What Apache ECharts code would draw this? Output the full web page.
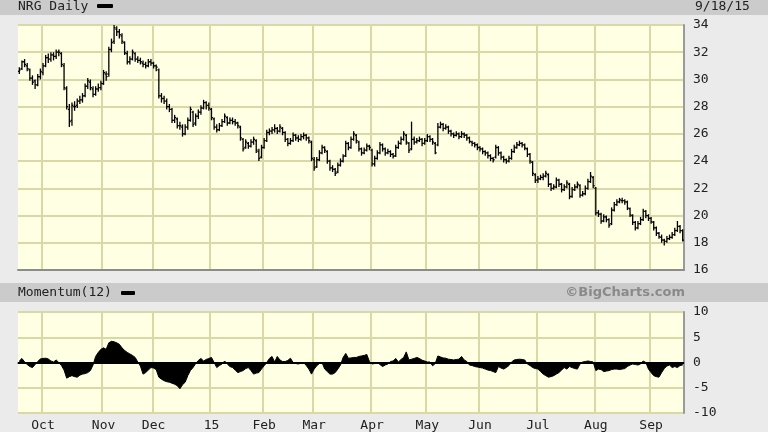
<!DOCTYPE html>
<html><head><meta charset="utf-8">
<script src="https://cdn.jsdelivr.net/npm/echarts@6/dist/echarts.min.js"></script>
<style>html,body{margin:0;padding:0;background:#ebebeb;}#c{width:768px;height:432px;}</style>
</head><body><div id="c"></div>
<script>
// ---- calendar (trading days) ----
const startDate = '2014-09-18';
const endDate = '2015-09-18';
const holidays = ['2014-11-27','2014-12-25','2015-01-01','2015-01-19','2015-02-16','2015-04-03','2015-05-25','2015-07-03','2015-09-07'];
const monthLabels = ['15','Feb','Mar','Apr','May','Jun','Jul','Aug','Sep','Oct','Nov','Dec'];

// ---- price data (NRG daily OHLC) ----
const opens = [
30.6,30.8,31.3,31.0,30.7,30.1,29.9,29.6,30.2,30.5,
31.0,31.6,31.5,31.8,31.7,32.0,31.9,31.0,29.3,27.8,
27.0,28.0,28.1,28.4,28.5,28.8,29.5,29.8,29.3,28.9,
29.3,29.4,29.7,30.4,30.4,32.2,32.8,33.7,33.5,33.2,
32.7,31.9,31.3,31.5,31.9,31.5,31.4,31.2,31.1,31.0,
31.3,31.2,31.0,30.7,28.8,28.6,28.4,28.0,27.8,27.0,
27.1,26.6,26.5,26.0,26.5,27.0,27.6,26.8,27.3,27.6,
27.9,28.3,28.1,27.8,27.1,26.5,26.3,26.6,26.9,27.2,
26.8,27.0,26.9,26.8,26.5,25.6,25.0,25.3,25.1,25.4,
25.5,24.7,24.3,25.0,25.5,26.1,26.2,26.3,26.4,26.2,
26.4,26.1,25.6,25.3,25.5,25.9,25.7,25.6,25.8,25.9,
25.7,25.4,24.1,23.6,24.1,24.6,25.0,24.7,24.0,23.5,
23.4,23.2,23.7,24.0,24.4,25.3,25.0,25.6,25.9,25.4,
24.9,24.6,24.8,25.1,24.8,23.8,24.2,24.6,25.2,24.9,
24.6,24.7,24.5,24.4,25.0,25.3,25.6,25.9,25.3,24.9,
25.6,25.4,25.5,25.6,25.3,25.5,25.8,25.6,25.3,25.2,
26.5,26.7,26.4,26.5,26.2,26.0,25.9,26.0,25.8,26.0,
25.9,25.7,25.4,25.3,25.2,25.0,24.9,24.7,24.6,24.4,
24.2,24.3,25.0,24.6,24.3,24.1,24.0,24.2,24.7,25.0,
25.2,25.3,25.2,24.9,24.5,23.9,23.0,22.6,22.7,22.8,
22.9,23.0,22.3,22.0,22.1,22.6,22.3,21.9,22.1,22.3,
21.4,21.9,22.1,22.2,21.5,21.6,22.0,22.5,22.8,22.0,
20.2,20.1,19.6,19.9,19.7,19.4,20.4,20.8,21.0,21.1,
21.1,21.0,20.5,20.0,19.5,19.1,19.4,19.7,20.3,20.0,
19.8,19.5,19.1,18.7,18.4,18.2,18.1,18.3,18.4,18.6,
18.9,19.2,18.9];
const highs = [
30.9,31.4,31.5,31.2,30.8,30.3,30.0,30.4,30.8,31.2,
31.8,31.9,32.0,32.0,32.2,32.2,32.0,31.2,29.5,28.2,
28.3,28.4,28.6,28.8,29.0,29.7,30.1,30.0,29.5,29.5,
29.7,29.9,30.7,30.6,32.4,33.0,34.0,33.9,33.7,33.4,
32.8,32.1,31.7,32.2,32.0,31.7,31.6,31.4,31.3,31.5,
31.5,31.3,31.1,30.8,29.0,28.8,28.6,28.2,27.9,27.4,
27.2,26.9,26.7,26.7,27.2,28.0,27.7,27.5,27.8,28.1,
28.5,28.4,28.3,27.9,27.2,26.7,26.8,27.1,27.5,27.3,
27.2,27.2,27.1,26.9,26.6,25.7,25.6,25.4,25.6,25.8,
25.6,24.9,25.2,25.7,26.3,26.4,26.5,26.7,26.5,26.7,
26.5,26.2,25.7,25.7,26.1,26.0,25.9,26.0,26.1,26.0,
25.8,25.5,24.3,24.3,24.8,25.2,25.1,24.8,24.1,23.7,
23.5,23.9,24.2,24.5,25.5,25.4,25.8,26.2,26.0,25.5,
25.0,25.0,25.3,25.2,24.9,24.4,24.8,25.4,25.3,25.0,
24.9,24.8,24.6,25.2,25.5,25.8,26.2,26.0,25.4,26.9,
25.8,25.7,25.8,25.7,25.7,26.0,25.9,25.7,25.4,26.8,
26.9,26.8,26.7,26.6,26.3,26.1,26.2,26.1,26.2,26.1,
26.0,25.8,25.5,25.4,25.3,25.1,25.0,24.8,24.7,24.5,
24.3,25.2,25.1,24.7,24.4,24.2,24.4,24.9,25.2,25.4,
25.5,25.4,25.3,25.0,24.6,24.0,23.1,22.9,23.0,23.1,
23.3,23.1,22.4,22.3,22.8,22.7,22.4,22.3,22.6,22.4,
22.1,22.3,22.5,22.3,21.8,22.2,22.7,23.2,22.9,22.1,
20.4,20.2,20.1,20.0,19.8,20.6,21.0,21.2,21.3,21.3,
21.2,21.1,20.6,20.1,19.6,19.6,19.9,20.5,20.4,20.1,
19.9,19.6,19.2,18.8,18.6,18.3,18.5,18.6,18.8,19.1,
19.6,19.3,19.0];
const lows = [
30.4,30.7,30.9,30.6,29.9,29.6,29.3,29.5,30.0,30.3,
30.9,31.2,31.3,31.4,31.5,31.7,30.9,29.2,27.8,26.5,
26.6,27.7,27.9,28.2,28.3,28.7,29.3,29.2,28.7,28.8,
29.1,29.2,29.6,29.9,30.2,32.0,32.6,33.2,33.0,32.6,
31.8,31.1,31.1,31.4,31.3,31.2,31.1,30.9,30.8,30.9,
31.0,30.8,30.6,28.6,28.3,28.2,27.8,27.6,26.8,26.8,
26.4,26.3,25.8,25.9,26.3,26.9,26.5,26.6,27.1,27.4,
27.8,27.8,27.7,27.0,26.3,26.1,26.2,26.5,26.8,26.6,
26.7,26.7,26.6,26.4,25.5,24.7,24.9,24.9,25.0,25.2,
24.6,24.0,24.2,24.9,25.4,25.9,26.0,26.1,26.0,26.1,
25.9,25.4,25.1,25.2,25.4,25.5,25.4,25.5,25.6,25.5,
25.3,24.0,23.3,23.5,24.0,24.5,24.6,23.8,23.3,23.2,
22.9,23.1,23.6,23.9,24.3,24.8,24.9,25.5,25.3,24.7,
24.4,24.5,24.7,24.8,23.6,23.6,24.1,24.5,24.7,24.4,
24.5,24.3,24.2,24.3,24.9,25.2,25.5,25.2,24.6,24.8,
25.2,25.3,25.4,25.1,25.2,25.4,25.4,25.2,24.5,25.1,
26.4,26.2,26.3,26.0,25.8,25.7,25.8,25.6,25.7,25.7,
25.5,25.3,25.1,25.0,24.8,24.7,24.5,24.4,24.2,24.0,
23.9,24.2,24.4,24.1,23.9,23.8,23.9,24.1,24.6,24.9,
25.1,25.0,24.8,24.3,23.8,22.9,22.4,22.4,22.6,22.6,
22.8,22.1,21.8,21.9,22.0,22.1,21.7,21.8,22.0,21.2,
21.3,21.8,22.0,21.3,21.4,21.5,21.9,22.4,22.0,20.0,
19.9,19.4,19.5,19.5,19.1,19.3,20.3,20.7,20.9,20.9,
20.8,20.4,19.9,19.3,18.9,19.0,19.3,19.6,19.8,19.6,
19.4,18.9,18.5,18.3,18.0,17.8,18.0,18.2,18.3,18.5,
18.8,18.7,18.1];
const closes = [
30.7,31.3,31.1,30.8,30.1,29.8,29.6,30.2,30.6,31.0,
31.6,31.5,31.8,31.7,32.0,32.0,31.1,29.4,28.0,26.9,
28.1,28.0,28.4,28.5,28.8,29.5,29.9,29.4,28.9,29.3,
29.4,29.7,30.5,30.2,32.2,32.7,33.8,33.5,33.3,32.8,
31.95,31.3,31.5,32.0,31.5,31.4,31.3,31.1,31.0,31.3,
31.2,31.0,30.9,28.8,28.6,28.4,28.0,27.8,27.0,27.2,
26.6,26.6,26.0,26.5,27.0,27.8,26.7,27.3,27.6,27.9,
28.3,28.1,27.9,27.2,26.5,26.3,26.6,26.9,27.3,26.8,
27.0,26.9,26.8,26.6,25.7,24.9,25.4,25.1,25.4,25.6,
24.8,24.2,25.0,25.5,26.1,26.2,26.3,26.4,26.2,26.5,
26.1,25.6,25.3,25.5,25.9,25.7,25.6,25.8,25.9,25.7,
25.5,24.2,23.5,24.1,24.6,25.0,24.8,24.0,23.5,23.4,
23.1,23.7,24.0,24.35,25.3,25.0,25.6,26.0,25.5,24.9,
24.6,24.8,25.1,25.0,23.8,24.2,24.6,25.2,24.9,24.6,
24.7,24.5,24.35,25.0,25.3,25.6,26.0,25.4,24.8,25.6,
25.4,25.5,25.6,25.3,25.5,25.8,25.6,25.4,24.6,26.5,
26.7,26.4,26.5,26.2,26.0,25.9,26.0,25.8,26.0,25.9,
25.7,25.45,25.3,25.2,25.0,24.9,24.7,24.6,24.4,24.2,
24.1,25.0,24.6,24.3,24.1,24.0,24.2,24.7,25.0,25.2,
25.3,25.2,24.95,24.5,24.0,23.1,22.6,22.7,22.8,22.9,
23.1,22.3,22.0,22.1,22.6,22.3,21.9,22.1,22.4,21.4,
21.9,22.1,22.3,21.5,21.6,22.0,22.5,22.9,22.2,20.2,
20.1,19.6,19.9,19.7,19.3,20.4,20.8,21.0,21.15,21.1,
21.0,20.55,20.05,19.5,19.1,19.4,19.7,20.3,20.0,19.8,
19.55,19.1,18.7,18.45,18.2,18.1,18.3,18.4,18.6,18.9,
19.2,18.9,18.2];
// ---- Momentum(12) ----
const momentum = [
0.3,0.8,0.1,-0.4,-0.8,-1.0,-0.4,0.2,0.7,0.8,
0.85,0.7,0.3,0.1,0.5,0.0,-0.6,-1.5,-3.1,-2.8,
-2.6,-2.8,-2.9,-2.5,-2.3,-2.2,-2.0,-1.6,-0.5,1.2,
2.0,2.6,2.9,2.6,3.9,4.2,4.1,3.9,3.6,2.9,
2.4,2.0,1.7,1.4,1.0,0.1,-0.7,-2.3,-2.0,-1.5,
-1.0,-1.1,-1.4,-2.9,-3.3,-3.6,-3.8,-3.9,-4.1,-4.3,
-4.6,-5.2,-4.4,-3.9,-2.6,-1.6,-1.0,-0.2,0.4,0.8,
0.3,0.6,0.8,1.0,0.0,-1.0,-0.6,-0.3,0.3,-0.3,
-0.8,-1.0,-1.5,-2.0,-1.8,-1.6,-1.2,-1.0,-1.6,-2.3,
-2.1,-2.0,-1.3,-0.65,0.0,0.8,1.2,0.1,1.2,0.5,
0.2,0.2,0.4,0.85,0.0,-0.2,-0.3,-0.1,0.0,-0.6,
-1.3,-2.3,-1.3,-0.65,-0.2,0.0,-1.3,-1.8,-2.3,-2.3,
-2.0,-1.3,-0.5,1.0,1.8,0.85,0.9,1.0,1.0,1.2,
1.3,1.4,1.6,0.2,-0.3,-0.2,0.0,-0.4,-0.8,-0.5,
-0.3,0.2,0.3,0.8,0.1,0.6,1.0,2.1,0.5,0.65,
0.8,1.0,0.8,0.45,0.3,0.1,0.1,-0.65,-0.2,1.3,
1.1,0.9,0.85,0.65,0.6,0.5,0.6,0.65,1.2,0.5,
0.2,-0.5,-0.6,-0.8,-0.9,-1.0,-1.1,-1.3,-1.5,-1.6,
-1.8,-2.0,-0.8,-1.1,-1.3,-1.0,-0.6,0.1,0.5,0.6,
0.65,0.6,0.5,-0.3,-0.6,-1.0,-1.2,-1.3,-1.8,-2.3,
-2.6,-2.9,-2.8,-2.6,-2.3,-2.0,-1.5,-1.0,-1.3,-0.8,
-1.0,-1.2,-1.3,-0.3,0.1,0.2,0.3,0.2,0.1,-1.6,
-1.3,-1.4,-1.8,-1.7,-1.6,-1.4,-1.3,-1.3,-1.4,-1.3,
-1.2,-0.8,-0.5,-0.3,-0.4,-0.5,-0.3,0.3,0.0,-1.3,
-2.0,-2.6,-2.8,-2.9,-2.0,-1.2,-0.7,-0.5,-1.0,-0.8,
-1.0,-0.6,-0.5];

const priceAxis = {min: 16, max: 34, interval: 2};
const momAxis = {min: -10, max: 10, interval: 5};

// ---- build trading-day categories ----
const dates = [];
for (let d = new Date(startDate + 'T00:00:00Z'); d <= new Date(endDate + 'T00:00:00Z'); d.setUTCDate(d.getUTCDate() + 1)) {
  const wd = d.getUTCDay();
  const s = d.toISOString().slice(0, 10);
  if (wd === 0 || wd === 6 || holidays.indexOf(s) >= 0) continue;
  dates.push(s);
}
function isMonthStart(i) {
  return i > 0 && i < dates.length && dates[i].slice(5, 7) !== dates[i - 1].slice(5, 7);
}
function monthLabel(v) { return monthLabels[(+v.slice(5, 7) + 11) % 12 === 0 ? 0 : (+v.slice(5,7) - 1)]; }

const ohlc = dates.map((d, i) => [i, opens[i], highs[i], lows[i], closes[i]]);

const FONT = 'DejaVu Sans Mono';
const GRIDC = '#d9d9a8';
const chart = echarts.init(document.getElementById('c'), null, {renderer: 'canvas'});

function ohlcItem(params, api) {
  const i = api.value(0);
  const x = api.coord([i, api.value(2)])[0];
  const hy = api.coord([i, api.value(2)])[1];
  const ly = api.coord([i, api.value(3)])[1];
  const oy = api.coord([i, api.value(1)])[1];
  const cy = api.coord([i, api.value(4)])[1];
  const bw = api.size([1, 0])[0];
  const t = Math.max(1, bw * 0.55);
  const st = {stroke: '#000', lineWidth: 1.3};
  return {type: 'group', children: [
    {type: 'line', shape: {x1: x, y1: hy, x2: x, y2: ly}, style: st},
    {type: 'line', shape: {x1: x - t, y1: oy, x2: x, y2: oy}, style: st},
    {type: 'line', shape: {x1: x, y1: cy, x2: x + t, y2: cy}, style: st}
  ]};
}

const lens = [opens.length, highs.length, lows.length, closes.length, momentum.length, dates.length];
const bad = lens.some(l => l !== dates.length);

chart.setOption({
  animation: false,
  backgroundColor: '#ebebeb',
  textStyle: {fontFamily: FONT},
  grid: [
    {left: 18, right: 84, top: 25, height: 245, show: true, backgroundColor: '#ffffe4', borderWidth: 0},
    {left: 18, right: 84, top: 312, height: 102, show: true, backgroundColor: '#ffffe4', borderWidth: 0}
  ],
  xAxis: [
    {type: 'category', gridIndex: 0, data: dates, boundaryGap: true,
     axisLine: {show: true, lineStyle: {color: '#8c8c8c', width: 2}},
     axisTick: {show: false}, axisLabel: {show: false},
     splitLine: {show: true, interval: (i) => isMonthStart(i), lineStyle: {color: GRIDC, width: 2}}},
    {type: 'category', gridIndex: 1, data: dates, boundaryGap: true,
     axisLine: {show: true, lineStyle: {color: '#8c8c8c', width: 2}},
     axisTick: {show: false},
     axisLabel: {show: true, interval: (i) => isMonthStart(i), formatter: (v) => monthLabels[(+v.slice(5, 7)) - 1],
                 color: '#222', fontFamily: FONT, fontSize: 13, margin: 6},
     splitLine: {show: true, interval: (i) => isMonthStart(i), lineStyle: {color: GRIDC, width: 2}}}
  ],
  yAxis: [
    {type: 'value', gridIndex: 0, position: 'right', min: priceAxis.min, max: priceAxis.max, interval: priceAxis.interval,
     axisLine: {show: true, lineStyle: {color: '#9a9a9a', width: 2}}, axisTick: {show: false},
     axisLabel: {color: '#222', fontFamily: FONT, fontSize: 13, margin: 9, align: 'left'},
     splitLine: {show: true, lineStyle: {color: GRIDC, width: 2}}},
    {type: 'value', gridIndex: 1, position: 'right', min: momAxis.min, max: momAxis.max, interval: momAxis.interval,
     axisLine: {show: true, lineStyle: {color: '#9a9a9a', width: 2}}, axisTick: {show: false},
     axisLabel: {color: '#222', fontFamily: FONT, fontSize: 13, margin: 9, align: 'left'},
     splitLine: {show: true, lineStyle: {color: GRIDC, width: 2}}}
  ],
  series: [
    {type: 'custom', name: 'NRG', xAxisIndex: 0, yAxisIndex: 0, data: ohlc,
     encode: {x: 0, y: [1, 2, 3, 4]}, renderItem: ohlcItem, silent: true, clip: true},
    {type: 'line', name: 'Momentum(12)', xAxisIndex: 1, yAxisIndex: 1, data: momentum,
     showSymbol: false, symbol: 'none', silent: true,
     lineStyle: {color: '#000', width: 1}, areaStyle: {color: '#000', opacity: 1},
     markLine: {silent: true, symbol: 'none', label: {show: false},
                lineStyle: {color: '#000', width: 2, type: 'solid'}, data: [{yAxis: 0}]}}
  ],
  graphic: [
    {type: 'rect', left: 0, top: 0, z: 50, shape: {width: 768, height: 15}, style: {fill: '#cbcbcb'}},
    {type: 'rect', left: 0, top: 283, z: 50, shape: {width: 768, height: 19}, style: {fill: '#cbcbcb'}},
    {type: 'text', x: 18, y: 7, z: 60, style: {text: 'NRG Daily', fill: '#222', font: '13px "DejaVu Sans Mono"', textVerticalAlign: 'middle'}},
    {type: 'rect', x: 97, y: 4, z: 60, shape: {width: 16, height: 4, r: 1}, style: {fill: '#000'}},
    {type: 'text', x: 695, y: 7, z: 60, style: {text: '9/18/15', fill: '#222', font: '13px "DejaVu Sans Mono"', textVerticalAlign: 'middle'}},
    {type: 'text', x: 18, y: 293, z: 60, style: {text: 'Momentum(12)', fill: '#222', font: '13px "DejaVu Sans Mono"', textVerticalAlign: 'middle'}},
    {type: 'rect', x: 121, y: 291, z: 60, shape: {width: 14, height: 4, r: 1}, style: {fill: '#000'}},
    {type: 'text', x: 685, y: 293, z: 60, style: {text: '©BigCharts.com', fill: '#8a8a8a', font: 'bold 13px "DejaVu Sans"', textAlign: 'right', textVerticalAlign: 'middle'}},
    {type: 'text', x: 300, y: 150, z: 99, invisible: !bad, style: {text: 'LEN ' + lens.join(','), fill: 'red', font: '14px sans-serif'}}
  ]
});
</script></body></html>
